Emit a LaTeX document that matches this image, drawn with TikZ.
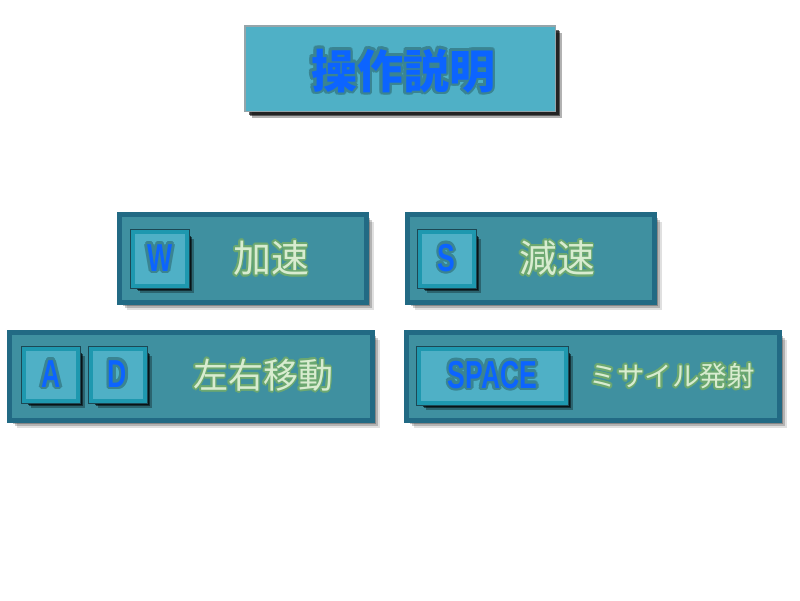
\documentclass[tikz,border=0pt]{standalone}
\usepackage{fontspec}
\usepackage{contour}
\usetikzlibrary{shadows}
\newfontfamily\jpfont{Noto Sans CJK JP}
\newfontfamily\keyfont[FakeStretch=0.68]{Liberation Sans Bold}
\definecolor{titlefill}{RGB}{79,176,198}
\definecolor{titleedge}{RGB}{150,165,170}
\definecolor{panelfill}{RGB}{63,144,160}
\definecolor{paneledge}{RGB}{34,106,132}
\definecolor{keyfill}{RGB}{79,176,198}
\definecolor{keyedge}{RGB}{30,152,175}
\definecolor{keyline}{RGB}{28,72,84}
\definecolor{keyblue}{RGB}{12,100,255}
\definecolor{keyrim}{RGB}{58,132,146}
\definecolor{desctext}{RGB}{216,236,208}
\definecolor{descglow}{RGB}{108,168,112}
\contournumber{12}
\newcommand\glowtext[1]{\contourlength{1.8pt}\contour{descglow}{#1}}
\newcommand\rimtext[1]{\contourlength{2.6pt}\contour{keyrim}{#1}}

\begin{document}
\begin{tikzpicture}[x=1pt,y=-1pt,
  softshadow/.style={drop shadow={shadow xshift=7pt,shadow yshift=-7pt,opacity=.12,fill=black},
    drop shadow={shadow xshift=5pt,shadow yshift=-5pt,opacity=.2,fill=black},
    drop shadow={shadow xshift=3pt,shadow yshift=-3pt,opacity=.25,fill=black}},
  hardshadow/.style={drop shadow={shadow xshift=7pt,shadow yshift=-7pt,opacity=.3,fill=black},
    drop shadow={shadow xshift=5pt,shadow yshift=-5pt,opacity=.5,fill=black},
    drop shadow={shadow xshift=4pt,shadow yshift=-4pt,opacity=.6,fill=black}},
  titlebox/.style={rectangle,hardshadow,fill=titlefill,draw=titleedge,line width=1.5pt,
    inner sep=0pt,outer sep=0pt,minimum width=310.5pt,minimum height=85.5pt},
  panel/.style={rectangle,softshadow,fill=panelfill,draw=paneledge,line width=5pt,
    inner sep=0pt,outer sep=0pt,minimum height=88pt},
  keycap/.style={rectangle,hardshadow,preaction={draw=keyline,line width=6pt},
    fill=keyfill,draw=keyedge,line width=4pt,inner sep=0pt,outer sep=0pt,
    minimum width=54pt,minimum height=54pt,text=keyblue,font=\keyfont\fontsize{39}{40}\selectfont},
  desc/.style={text=desctext,inner sep=0pt},
  titletext/.style={text=keyblue,inner sep=0pt,font=\jpfont\bfseries\fontsize{46}{48}\selectfont}]
  \fill[white] (0,0) rectangle (800,600);
  \useasboundingbox (0,0) rectangle (800,600);

  \node[titlebox] (title) at (400,68.5) {};
  \node[titletext] (titlelabel) at (403,72) {\rimtext{操作説明}};

  \node[panel,minimum width=247pt] (pw) at (243,258.5) {};
  \node[panel,minimum width=247pt] (ps) at (531,258.5) {};
  \node[panel,minimum width=363pt] (pad) at (191,376.5) {};
  \node[panel,minimum width=373pt] (pspace) at (593,376.5) {};

  \node[keycap] (kw) at (160,259) {\rimtext{W}};
  \node[keycap] (ks) at (446.5,259) {\rimtext{S}};
  \node[keycap,minimum height=52pt] (ka) at (51,375) {\rimtext{A}};
  \node[keycap,minimum height=52pt] (kd) at (117.5,375) {\rimtext{D}};
  \node[keycap,minimum width=147pt] (kspace) at (492.5,376) {\rimtext{SPACE}};

  \node[desc,font=\jpfont\fontsize{38}{40}\selectfont] (accel) at (271,259) {\glowtext{加速}};
  \node[desc,font=\jpfont\fontsize{38}{40}\selectfont] (decel) at (557,259) {\glowtext{減速}};
  \node[desc,font=\jpfont\fontsize{35}{38}\selectfont] (move) at (263,376) {\glowtext{左右移動}};
  \node[desc,font=\jpfont\fontsize{27.5}{30}\selectfont] (fire) at (672,377) {\glowtext{ミサイル発射}};
\end{tikzpicture}
\end{document}
